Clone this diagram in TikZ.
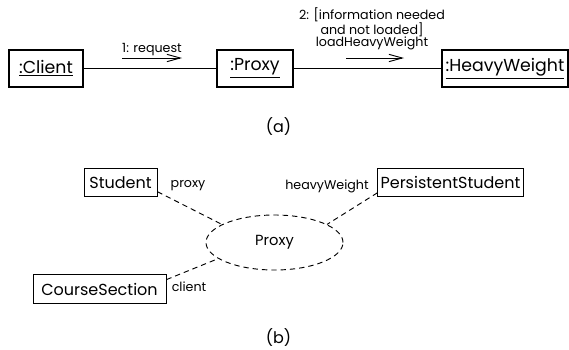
\documentclass[tikz,border=0pt]{standalone}
\usepackage{fontspec}
\setmainfont{Poppins}
\usetikzlibrary{shapes.geometric, arrows.meta, positioning}

\begin{document}
\begin{tikzpicture}[
        x=0.75pt, y=-0.75pt,
        font=\fontsize{12}{14}\selectfont,
        obj/.style={draw, line width=0.8pt, inner sep=2pt, minimum height=27.75pt, font=\fontsize{13}{15}\selectfont},
        cls/.style={draw, line width=0.7pt, inner sep=2pt, minimum height=21.5pt},
        link/.style={line width=0.7pt},
        msg/.style={-{Straight Barb[length=10pt, width=5.5pt]}, line width=0.7pt},
        role/.style={font=\fontsize{9.5}{9}\selectfont, inner sep=1pt},
        assoc/.style={dash pattern=on 4pt off 3pt, line width=0.7pt}
    ]
        \useasboundingbox (0,0) rectangle (569,350);

        % (a) collaboration
        \node[obj, minimum width=55.5pt] (cl) at (46,68.5)  {\underline{:Client}};
        \node[obj, minimum width=57pt]   (px) at (255,68.5) {\underline{:Proxy}};
        \node[obj, minimum width=94.5pt] (hw) at (505,68.5) {\underline{:HeavyWeight}};

        \draw[link] (cl) -- (px);
        \draw[link] (px) -- (hw);

        \coordinate (m1a) at (122,58);
        \coordinate (m1b) at (182,58);
        \draw[msg] (m1a) -- node[above, role] (m1) {1: request} (m1b);

        \coordinate (m2a) at (346,58);
        \coordinate (m2b) at (404,58);
        \draw[msg] (m2a) -- (m2b);
        \node[role, align=center] (m2) at (372,29) {2: [information needed\\and not loaded]\\loadHeavyWeight};

        \node (capa) at (278.5,127) {(a)};

        % (b) roles
        \node[cls, minimum width=54.75pt]  (st) at (120.5,182.5) {Student};
        \node[cls, minimum width=108.75pt] (ps) at (450.5,182.5) {PersistentStudent};
        \node[cls, minimum width=99.75pt]  (cs) at (99.5,289)    {CourseSection};
        \node[ellipse, draw, assoc, minimum width=102.75pt, minimum height=41.25pt,
              font=\fontsize{11}{13}\selectfont] (pr) at (274.5,242.5) {Proxy};

        \draw[assoc] (st.-14) -- (pr.161);
        \draw[assoc] (ps.188) -- (pr.19);
        \draw[assoc] (cs.8)   -- (pr.196);

        \node[role] (rp) at (188,186) {proxy};
        \node[role] (rh) at (327,186) {heavyWeight};
        \node[role] (rc) at (189,287) {client};

        \node (capb) at (278.5,338) {(b)};
    \end{tikzpicture}
\end{document}
